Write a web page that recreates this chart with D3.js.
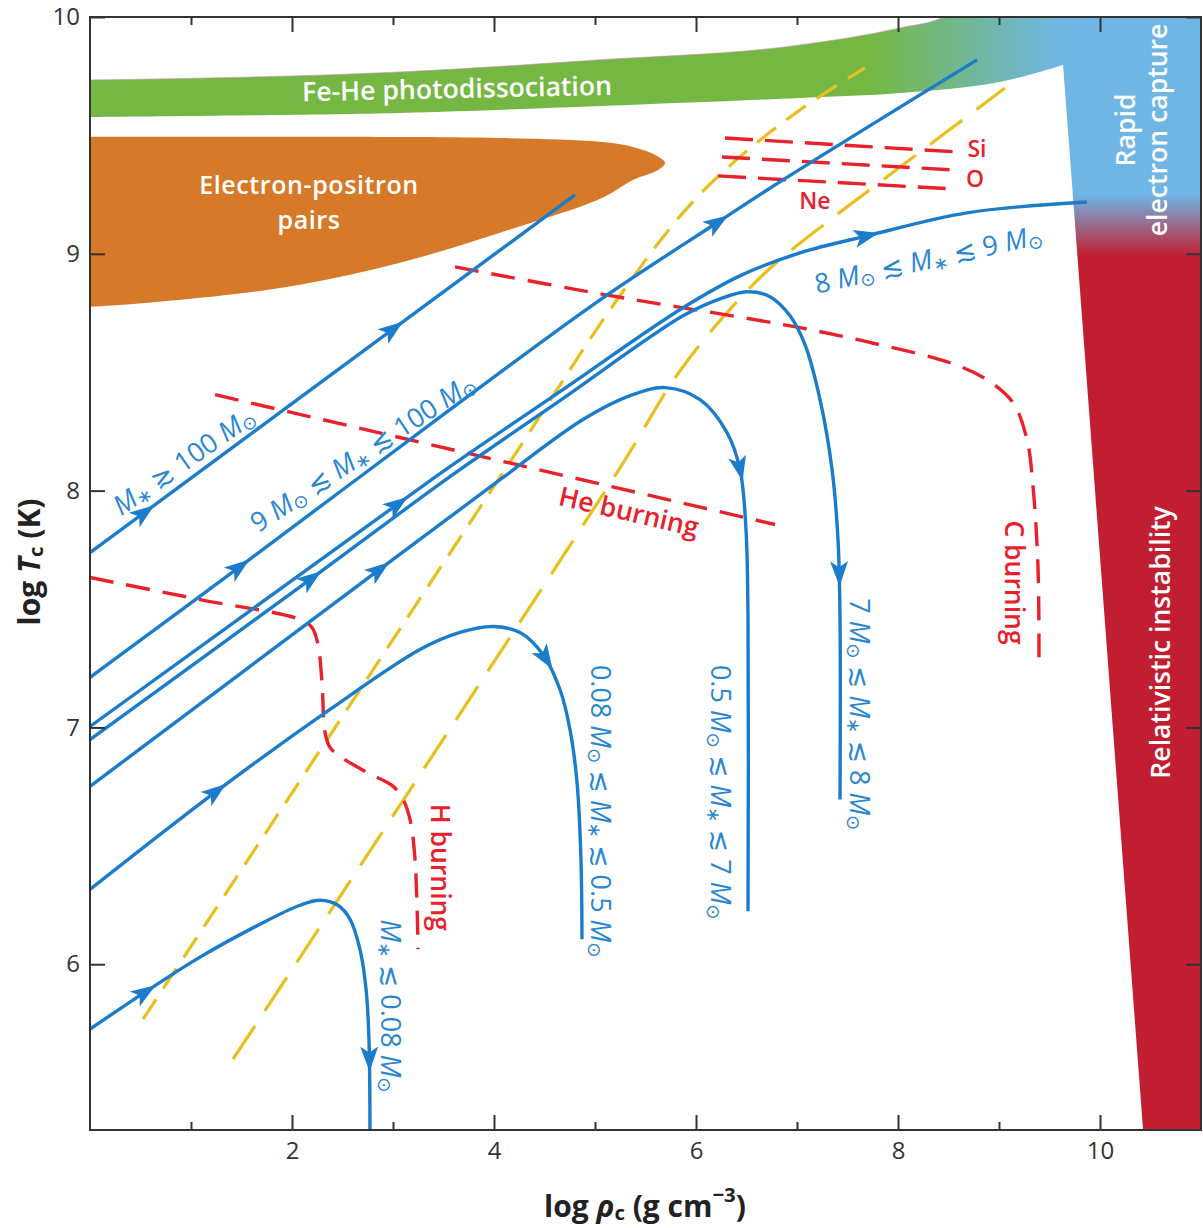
<!DOCTYPE html>
<html>
<head>
<meta charset="utf-8">
<script src="https://cdn.jsdelivr.net/npm/d3@7"></script>
<style>
  html, body { margin: 0; padding: 0; background: #fff; }
  svg { display: block; }
  text { font-family: "Open Sans", "DejaVu Sans", sans-serif; }
</style>
</head>
<body>
<svg id="chart" width="1203" height="1228"></svg>
<script>
// ---------------- data (log rho_c, log T_c) ----------------
const xMajorTicks = [2, 4, 6, 8, 10];
const xMinorTicks = [1, 3, 5, 7, 9];
const yMajorTicks = [6, 7, 8, 9, 10];

// Regions
const feHeTop = [[0, 9.734], [3.069, 9.768], [5.05, 9.819], [7.03, 9.882], [8.02, 9.954], [8.45, 10.0], [8.9, 10.15]];
const feHeBottom = [[0, 9.578], [3.069, 9.595], [5.05, 9.624], [7.03, 9.658], [8.02, 9.679], [9.01, 9.726], [9.634, 9.797]];
const captureEdge = [[9.581, 10.1], [10.444, 5.2]];
const pairsTop = [[0, 9.494], [2.079, 9.494], [4.059, 9.489], [5.05, 9.473], [5.376, 9.451], [5.594, 9.418], [5.693, 9.384]];
const pairsBottom = [[5.624, 9.354], [5.376, 9.312], [5.05, 9.232], [4.059, 9.089], [3.069, 8.962], [2.079, 8.869], [1.089, 8.814], [0, 8.776]];

// Degeneracy boundaries (yellow dashed)
const degenA = [[0.525, 5.768], [4.109, 8.089], [5.218, 8.806], [5.871, 9.173], [6.366, 9.384], [7.03, 9.608], [7.673, 9.785]];
const degenB = [[1.416, 5.599], [5.218, 8.076], [5.871, 8.523], [6.663, 8.911], [7.327, 9.143], [7.851, 9.312], [9.059, 9.70]];

// Burning thresholds (red dashed)
const hBurning = [[0, 7.633], [1.089, 7.54], [2.079, 7.456], [2.198, 7.422], [2.257, 7.35], [2.297, 7.19], [2.327, 6.979], [2.376, 6.916], [2.475, 6.878], [2.743, 6.81], [2.99, 6.755], [3.089, 6.705], [3.168, 6.612], [3.218, 6.443], [3.248, 6.063]];
const heBurning = [[1.238, 8.405], [6.782, 7.857]];
const cBurning = [[3.614, 8.945], [5.05, 8.831], [7.03, 8.688], [7.822, 8.616], [8.515, 8.54], [8.881, 8.468], [9.139, 8.371], [9.277, 8.215], [9.337, 8.017], [9.386, 7.679], [9.396, 7.287]];
const neBurning = [[6.218, 9.329], [8.535, 9.274]];
const oBurning = [[6.257, 9.409], [8.564, 9.354]];
const siBurning = [[6.287, 9.489], [8.594, 9.43]];

// Evolutionary tracks (blue)
const trackAbove100 = [[0, 7.738], [4.802, 9.249]];
const track9to100 = [[0, 7.211], [1.485, 7.679], [3.564, 8.342], [5.079, 8.814], [6.208, 9.131], [6.861, 9.312], [8.782, 9.819]];
const track8to9 = [[0, 7.004], [3.04, 7.941], [3.564, 8.101], [4.653, 8.418], [5.871, 8.772], [6.455, 8.911], [7.03, 9.004], [7.693, 9.076], [8.683, 9.173], [9.871, 9.219]];
const track7to8 = [[0, 6.949], [2.178, 7.624], [3.564, 8.059], [4.653, 8.38], [5.871, 8.738], [6.238, 8.81], [6.505, 8.84], [6.733, 8.819], [6.931, 8.738], [7.079, 8.616], [7.228, 8.384], [7.347, 8.089], [7.406, 7.793], [7.426, 7.456], [7.426, 6.696]];
const track05to7 = [[0, 6.751], [2.851, 7.662], [4.059, 8.046], [4.881, 8.30], [5.347, 8.401], [5.693, 8.435], [6.04, 8.384], [6.307, 8.245], [6.436, 8.089], [6.495, 7.835], [6.515, 7.456], [6.515, 6.224]];
const track008to05 = [[0, 6.316], [1.238, 6.726], [2.376, 7.076], [3.267, 7.329], [3.663, 7.401], [3.99, 7.426], [4.257, 7.401], [4.485, 7.308], [4.653, 7.16], [4.752, 6.992], [4.822, 6.768], [4.861, 6.443], [4.871, 6.105]];
const trackBelow008 = [[0, 5.726], [0.545, 5.882], [1.089, 6.03], [1.683, 6.169], [2.079, 6.249], [2.277, 6.27], [2.455, 6.249], [2.574, 6.19], [2.673, 6.063], [2.733, 5.895], [2.762, 5.684], [2.772, 5.25]];

const tracks = [trackAbove100, track9to100, track8to9, track7to8, track05to7, track008to05, trackBelow008];
// arrowheads: [track index, log rho, log T]
const arrowMarks = [
  [0, 0.545, 7.90], [0, 3.0, 8.68],
  [1, 1.485, 7.67], [1, 6.208, 9.13],
  [2, 3.04, 7.94], [2, 7.69, 9.07],
  [3, 2.178, 7.63], [3, 7.426, 7.65],
  [4, 2.85, 7.67], [4, 6.40, 8.09],
  [5, 1.24, 6.73], [5, 4.50, 7.29],
  [6, 0.545, 5.88], [6, 2.77, 5.60]
];

// ---------------- chart ----------------
const svg = d3.select("#chart");
const x = d3.scaleLinear().domain([0, 11]).range([90, 1201]);
const y = d3.scaleLinear().domain([5.3, 10]).range([1130, 17]);

const BLUE = "#1b7ccb", RED = "#e8212b", YELLOW = "#e8bf1c";
const GREEN = "#74b843", SKY = "#6fb6e5", CRIMSON = "#c21e31", ORANGE = "#d67a29";

const defs = svg.append("defs");
defs.append("clipPath").attr("id", "plotClip").append("rect")
  .attr("x", x(0)).attr("y", y(10)).attr("width", x(11) - x(0)).attr("height", y(5.3) - y(10));

const gBand = defs.append("linearGradient").attr("id", "bandGrad").attr("gradientUnits", "userSpaceOnUse")
  .attr("x1", x(7.72)).attr("x2", x(9.6)).attr("y1", 0).attr("y2", 0);
gBand.append("stop").attr("offset", 0).attr("stop-color", GREEN);
gBand.append("stop").attr("offset", 1).attr("stop-color", SKY);

const gRight = defs.append("linearGradient").attr("id", "rightGrad").attr("gradientUnits", "userSpaceOnUse")
  .attr("x1", 0).attr("x2", 0).attr("y1", y(9.25)).attr("y2", y(8.99));
gRight.append("stop").attr("offset", 0).attr("stop-color", SKY);
gRight.append("stop").attr("offset", 1).attr("stop-color", CRIMSON);

const plot = svg.append("g").attr("clip-path", "url(#plotClip)");

const lin = d3.line().x(d => x(d[0])).y(d => y(d[1]));
const smooth = d3.line().x(d => x(d[0])).y(d => y(d[1])).curve(d3.curveCatmullRom.alpha(0.5));
const mono = d3.line().x(d => x(d[0])).y(d => y(d[1])).curve(d3.curveMonotoneX);

// Fe-He band
(function () {
  const topS = mono(feHeTop);
  const botRevS = smooth(feHeBottom.slice().reverse());
  const d = topS + " L" + x(11.2) + "," + y(10.15) + " L" + x(11.2) + "," + y(9.797) +
    " L" + botRevS.slice(1) + " Z";
  plot.append("path").attr("d", d).attr("fill", "url(#bandGrad)");
  plot.append("path").attr("d", mono(feHeTop)).attr("fill", "none")
    .attr("stroke", "#c98fa6").attr("stroke-width", 1).attr("stroke-opacity", 0.6);
})();

// Right region (rapid electron capture / relativistic instability)
plot.append("path")
  .attr("d", lin([captureEdge[0], [11.2, 10.1], [11.2, 5.2], captureEdge[1]]) + "Z")
  .attr("fill", "url(#rightGrad)");

// Electron-positron pairs
plot.append("path")
  .attr("d", smooth([[-0.3, 9.494]].concat(pairsTop, pairsBottom, [[-0.3, 8.776]])) + "Z")
  .attr("fill", ORANGE);

// text helper
function addText(parent, px, py, rot, segs, opts) {
  const t = parent.append("text")
    .attr("transform", `translate(${px},${py}) rotate(${rot})`)
    .attr("text-anchor", "middle")
    .attr("dominant-baseline", "central")
    .attr("fill", opts.color)
    .attr("font-size", opts.size)
    .attr("font-weight", opts.weight || 400);
  if (opts.spacing) t.attr("letter-spacing", opts.spacing);
  let shift = 0;
  segs.forEach(s => {
    const [txt, st] = s;
    const ts = t.append("tspan").text(txt);
    let target = 0;
    if (st && st.includes("s")) { target = opts.size * 0.24; ts.attr("font-size", opts.size * 0.68); }
    if (st && st.includes("u")) { target = -opts.size * 0.38; ts.attr("font-size", opts.size * 0.68); }
    if (st && st.includes("i")) ts.attr("font-style", "italic");
    if (target !== shift) { ts.attr("dy", target - shift); shift = target; }
  });
  return t;
}

// Region labels (white)
const W = { color: "#fff", size: 26.6, weight: 600 };
const W2 = { color: "#fff", size: 25, weight: 600, spacing: 0.6 };
addText(plot, x(3.634), y(9.70), -1.2, [["Fe-He photodissociation"]], W);
addText(plot, x(2.168), y(9.295), 0, [["Electron-positron"]], W2);
addText(plot, x(2.168), y(9.149), 0, [["pairs"]], W2);
addText(plot, x(10.248), y(9.523), -90, [["Rapid"]], W);
addText(plot, x(10.564), y(9.523), -90, [["electron capture"]], W);
addText(plot, x(10.594), y(7.359), -90, [["Relativistic instability"]], W);

// Yellow dashed degeneracy lines
plot.append("path").attr("d", smooth(degenA)).attr("fill", "none")
  .attr("stroke", YELLOW).attr("stroke-width", 3.2).attr("stroke-dasharray", "24,13");
plot.append("path").attr("d", smooth(degenB)).attr("fill", "none")
  .attr("stroke", YELLOW).attr("stroke-width", 3.2).attr("stroke-dasharray", "40,18");

// Red dashed burning lines
[hBurning, heBurning, cBurning].forEach(l => {
  plot.append("path").attr("d", smooth(l)).attr("fill", "none")
    .attr("stroke", RED).attr("stroke-width", 3.4).attr("stroke-dasharray", "24,13");
});
[siBurning, oBurning, neBurning].forEach(l => {
  plot.append("path").attr("d", lin(l)).attr("fill", "none")
    .attr("stroke", RED).attr("stroke-width", 3.4).attr("stroke-dasharray", "28,12");
});

// Blue tracks
const trackNodes = tracks.map(t =>
  plot.append("path").attr("d", smooth(t)).attr("fill", "none")
    .attr("stroke", BLUE).attr("stroke-width", 3.4).attr("stroke-linecap", "butt").node());

// Arrowheads
arrowMarks.forEach(([ti, ax, ay]) => {
  const node = trackNodes[ti];
  const L = node.getTotalLength();
  const px = x(ax), py = y(ay);
  let best = 0, bd = Infinity;
  for (let l = 0; l <= L; l += 1) {
    const p = node.getPointAtLength(l);
    const dd = (p.x - px) ** 2 + (p.y - py) ** 2;
    if (dd < bd) { bd = dd; best = l; }
  }
  const c = node.getPointAtLength(best);
  const p1 = node.getPointAtLength(Math.max(0, best - 3));
  const p2 = node.getPointAtLength(Math.min(L, best + 3));
  const ang = Math.atan2(p2.y - p1.y, p2.x - p1.x) * 180 / Math.PI;
  plot.append("path")
    .attr("d", "M13,0 L-12,-9 L-6,0 L-12,9 Z")
    .attr("transform", `translate(${c.x},${c.y}) rotate(${ang})`)
    .attr("fill", BLUE);
});

// Red labels
const R = { color: RED, size: 26.5, weight: 600 };
const Rs = { color: RED, size: 23, weight: 600 };
addText(plot, x(8.782), y(9.447), 0, [["Si"]], Rs);
addText(plot, x(8.762), y(9.322), 0, [["O"]], Rs);
addText(plot, x(7.178), y(9.228), 0, [["Ne"]], Rs);
addText(plot, x(5.337), y(7.914), 13, [["He burning"]], R);
addText(plot, x(3.48), y(6.409), 90, [["H burning"]], R);
addText(plot, x(9.158), y(7.612), 90, [["C burning"]], R);

// Blue labels
const B = { color: "#2a86d3", size: 27, weight: 400 };
const SUN = ["\u2299", "s"], STAR = ["\u2217", "s"];
addText(plot, x(0.921), y(8.131), -35, [["M", "i"], STAR, [" \u2273 100 "], ["M", "i"], SUN], B);
addText(plot, x(2.693), y(8.165), -33.5, [["9 "], ["M", "i"], SUN, [" \u2272 "], ["M", "i"], STAR, [" \u2272 100 "], ["M", "i"], SUN], B);
addText(plot, x(8.297), y(8.983), -12.5, [["8 "], ["M", "i"], SUN, [" \u2272 "], ["M", "i"], STAR, [" \u2272 9 "], ["M", "i"], SUN], B);
addText(plot, x(5.07), y(6.646), 90, [["0.08 "], ["M", "i"], SUN, [" \u2272 "], ["M", "i"], STAR, [" \u2272 0.5 "], ["M", "i"], SUN], B);
addText(plot, x(6.257), y(6.726), 90, [["0.5 "], ["M", "i"], SUN, [" \u2272 "], ["M", "i"], STAR, [" \u2272 7 "], ["M", "i"], SUN], B);
addText(plot, x(7.634), y(7.055), 90, [["7 "], ["M", "i"], SUN, [" \u2272 "], ["M", "i"], STAR, [" \u2272 8 "], ["M", "i"], SUN], B);
addText(plot, x(2.99), y(5.823), 90, [["M", "i"], STAR, [" \u2272 0.08 "], ["M", "i"], SUN], B);

// ---------------- axes ----------------
const AX = "#333";
function styleAxis(g) {
  g.select(".domain").remove();
  g.selectAll(".tick line").attr("stroke", AX).attr("stroke-width", 2);
  g.selectAll(".tick text").attr("fill", AX).attr("font-size", 24)
    .attr("font-family", "'Open Sans', sans-serif");
}
svg.append("g").attr("transform", `translate(0,${y(5.3)})`)
  .call(d3.axisBottom(x).tickValues(xMajorTicks).tickSize(-15).tickPadding(12)).call(styleAxis);
svg.append("g").attr("transform", `translate(0,${y(5.3)})`)
  .call(d3.axisBottom(x).tickValues(xMinorTicks).tickSize(-8).tickFormat("")).call(styleAxis);
svg.append("g").attr("transform", `translate(0,${y(10)})`)
  .call(d3.axisTop(x).tickValues(xMajorTicks).tickSize(-15).tickFormat("")).call(styleAxis);
svg.append("g").attr("transform", `translate(0,${y(10)})`)
  .call(d3.axisTop(x).tickValues(xMinorTicks).tickSize(-8).tickFormat("")).call(styleAxis);
svg.append("g").attr("transform", `translate(${x(0)},0)`)
  .call(d3.axisLeft(y).tickValues(yMajorTicks).tickSize(-15).tickPadding(10).tickFormat(d3.format("d"))).call(styleAxis);
svg.append("g").attr("transform", `translate(${x(11)},0)`)
  .call(d3.axisRight(y).tickValues(yMajorTicks).tickSize(-15).tickFormat("")).call(styleAxis);

svg.append("rect")
  .attr("x", x(0)).attr("y", y(10)).attr("width", x(11) - x(0)).attr("height", y(5.3) - y(10))
  .attr("fill", "none").attr("stroke", AX).attr("stroke-width", 2);

// axis titles
const T = { color: "#222", size: 30, weight: 700 };
addText(svg, 28, 562, -90, [["log "], ["T", "i"], ["c", "s"], [" (K)"]], T);
addText(svg, 645, 1205, 0, [["log "], ["\u03c1", "i"], ["c", "s"], [" (g cm"], ["\u22123", "u"], [")"]], T);
</script>
</body>
</html>
